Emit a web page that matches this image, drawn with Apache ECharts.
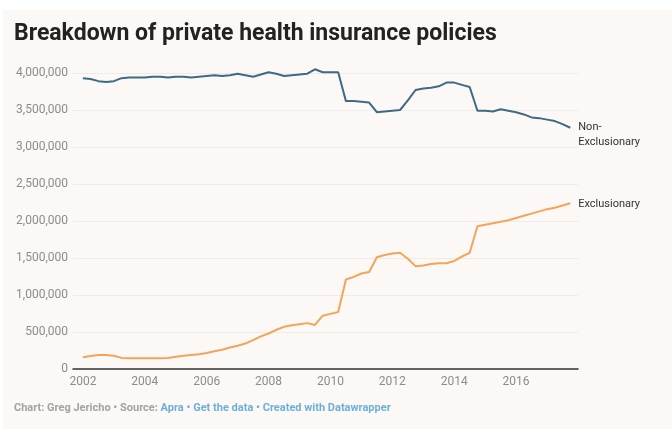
<!DOCTYPE html>
<html>
<head>
<meta charset="utf-8">
<script src="https://cdn.jsdelivr.net/npm/echarts@6/dist/echarts.min.js"></script>
<style>
  html, body { margin: 0; padding: 0; background: #ffffff; }
  #bg { position: absolute; left: 3px; top: 10px; width: 669px; height: 419px; background: #fcf8f5; }
  #chart { position: absolute; left: 0; top: 0; width: 672px; height: 429px; }
</style>
</head>
<body>
<div id="bg"></div>
<div id="chart"></div>
<script>
// Quarterly observations, 2002 Q1 .. 2017 Q4
const startYear = 2002;
const nonExclusionary = [
  3930000, 3920000, 3890000, 3880000, 3890000, 3930000, 3940000, 3940000,
  3940000, 3950000, 3950000, 3940000, 3950000, 3950000, 3940000, 3950000,
  3960000, 3970000, 3960000, 3970000, 3990000, 3970000, 3950000, 3980000,
  4010000, 3990000, 3960000, 3970000, 3980000, 3990000, 4050000, 4010000,
  4010000, 4010000, 3620000, 3620000, 3610000, 3600000, 3470000, 3480000,
  3490000, 3500000, 3630000, 3770000, 3790000, 3800000, 3820000, 3870000,
  3870000, 3840000, 3810000, 3490000, 3490000, 3480000, 3510000, 3490000,
  3470000, 3440000, 3400000, 3390000, 3370000, 3350000, 3310000, 3260000
];
const exclusionary = [
  160000, 175000, 190000, 190000, 180000, 150000, 145000, 145000,
  145000, 145000, 145000, 150000, 165000, 180000, 190000, 200000,
  215000, 240000, 260000, 290000, 315000, 345000, 390000, 440000,
  480000, 530000, 570000, 590000, 605000, 620000, 595000, 720000,
  745000, 770000, 1210000, 1245000, 1290000, 1310000, 1510000, 1540000,
  1560000, 1570000, 1490000, 1390000, 1400000, 1420000, 1430000, 1430000,
  1460000, 1520000, 1570000, 1930000, 1950000, 1970000, 1990000, 2010000,
  2040000, 2070000, 2100000, 2130000, 2160000, 2180000, 2210000, 2240000
];
const xTickLabels = [2002, 2004, 2006, 2008, 2010, 2012, 2014, 2016];
const yTickValues = [0, 500000, 1000000, 1500000, 2000000, 2500000, 3000000, 3500000, 4000000];

const titleText = 'Breakdown of private health insurance policies';
const footerGray = 'Chart: Greg Jericho • Source: ';
const footerBlue = 'Apra • Get the data • Created with Datawrapper';
const seriesNames = ['Non-\nExclusionary', 'Exclusionary'];

function pairs(vals) {
  return vals.map((v, i) => [startYear + i * 0.25, v]);
}

const chart = echarts.init(document.getElementById('chart'), null, { renderer: 'canvas' });
chart.setOption({
  backgroundColor: 'transparent',
  animation: false,
  title: [
    {
      text: titleText,
      left: 14, top: 23, padding: 0,
      textStyle: { fontFamily: 'Roboto', fontWeight: 'bold', fontSize: 23, color: '#222222' }
    },
    {
      text: '{g|' + footerGray + '}{b|' + footerBlue + '}',
      left: 14, top: 403, padding: 0,
      textStyle: {
        fontFamily: 'Roboto', fontSize: 11,
        rich: {
          g: { fontFamily: 'Roboto', fontSize: 11, color: '#a3a3a3' },
          b: { fontFamily: 'Roboto', fontSize: 11, color: '#6ab0dc' }
        }
      }
    }
  ],
  grid: { left: 73, right: 94, top: 73, bottom: 60, containLabel: false },
  xAxis: {
    type: 'value',
    min: 2001.68,
    max: 2018.0,
    axisLine: { show: true, onZero: true, lineStyle: { color: '#333333', width: 1.5 } },
    axisTick: { show: false },
    splitLine: { show: false },
    axisLabel: {
      customValues: xTickLabels,
      formatter: v => String(v),
      color: '#8c8c8c', fontFamily: 'Roboto', fontSize: 12, margin: 7
    }
  },
  yAxis: {
    type: 'value',
    min: 0, max: 4000000, interval: 500000,
    axisLine: { show: false },
    axisTick: { show: false },
    splitLine: { show: true, lineStyle: { color: '#efebe8', width: 1 } },
    axisLabel: {
      customValues: yTickValues,
      formatter: v => v.toLocaleString('en-US'),
      color: '#8c8c8c', fontFamily: 'Roboto', fontSize: 12, margin: 5
    }
  },
  series: [
    {
      name: seriesNames[0],
      type: 'line',
      data: pairs(nonExclusionary),
      showSymbol: false,
      clip: false,
      lineStyle: { color: '#3f6a84', width: 2 },
      itemStyle: { color: '#3f6a84' },
      endLabel: {
        show: true,
        formatter: seriesNames[0],
        color: '#333333', fontFamily: 'Roboto', fontSize: 11, lineHeight: 15,
        distance: 8, offset: [0, 7]
      },
      z: 3
    },
    {
      name: seriesNames[1],
      type: 'line',
      data: pairs(exclusionary),
      showSymbol: false,
      clip: false,
      lineStyle: { color: '#f3a45a', width: 2 },
      itemStyle: { color: '#f3a45a' },
      endLabel: {
        show: true,
        formatter: seriesNames[1],
        color: '#333333', fontFamily: 'Roboto', fontSize: 11,
        distance: 8, offset: [0, 1]
      },
      z: 3
    }
  ]
});
</script>
</body>
</html>
